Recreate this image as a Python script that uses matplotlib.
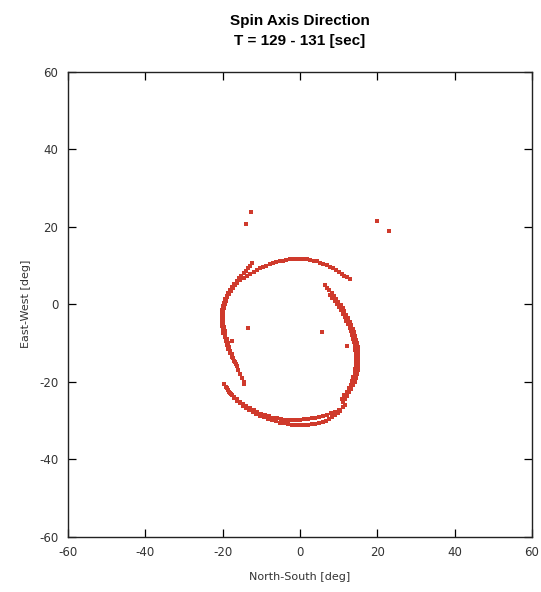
import matplotlib
matplotlib.use("Agg")
import matplotlib.pyplot as plt

# ---- data (deg) ----
outer_c_x = [12.8, 12.2, 11.5, 10.8, 10.1, 9.3, 8.5, 7.7, 6.9, 6.0, 5.2, 4.3, 3.5, 2.6, 1.7, 0.8, 0.0,
             -0.9, -1.8, -2.6, -3.5, -4.4, -5.2, -6.1, -7.0, -7.8, -8.7, -9.5, -10.3, -11.2, -12.0,
             -12.9, -13.7, -14.6, -15.5, -16.2, -16.8, -17.4, -17.9, -18.4, -18.8, -19.2, -19.5,
             -19.7, -19.8, -19.9, -19.9, -19.8, -19.7, -19.5, -19.3, -19.0, -18.7, -18.4, -18.0,
             -17.7, -17.3, -16.9, -16.4, -16.0, -15.5, -15.1, -14.6, -14.4]
outer_c_y = [6.4, 6.9, 7.3, 7.8, 8.2, 8.7, 9.2, 9.6, 10.0, 10.4, 10.7, 11.0, 11.2, 11.4, 11.6, 11.6, 11.7,
             11.6, 11.6, 11.5, 11.4, 11.2, 11.1, 10.8, 10.6, 10.3, 9.9, 9.6, 9.2, 8.7, 8.2,
             7.7, 7.2, 6.7, 6.1, 5.4, 4.8, 4.1, 3.3, 2.5, 1.7, 0.8, -0.1,
             -1.0, -2.0, -3.0, -4.0, -5.0, -6.0, -7.0, -8.0, -9.0, -10.0, -11.0, -12.0,
             -13.0, -14.0, -15.0, -16.0, -17.0, -18.0, -19.0, -20.0, -20.6]

spur_x = [-12.5, -13.0, -13.5, -14.0, -14.6, -15.2, -15.8, -16.4, -17.0, -17.6, -18.1, -18.6, -19.0,
          -19.4, -19.7, -20.0, -20.2, -20.3, -20.3, -20.3, -20.2, -20.0, -19.8, -19.5, -19.2,
          -18.9, -18.5, -18.1, -17.6, -17.1, -16.6]
spur_y = [10.5, 9.9, 9.2, 8.6, 8.0, 7.3, 6.6, 6.0, 5.2, 4.4, 3.6, 2.8, 2.0,
          1.2, 0.3, -0.6, -1.6, -2.6, -3.6, -4.6, -5.6, -6.6, -7.6, -8.6, -9.6,
          -10.6, -11.6, -12.6, -13.6, -14.6, -15.6]

right_a_x = [6.5, 7.0, 7.6, 8.2, 8.8, 9.4, 9.9, 10.5, 11.0, 11.5, 12.0, 12.4, 12.8, 13.2, 13.6, 13.9,
             14.2, 14.5, 14.7, 14.9, 15.0, 15.1, 15.1, 15.1, 15.0, 14.9, 14.7, 14.4, 14.1, 13.7,
             13.2, 12.7, 12.2, 11.7, 11.2]
right_a_y = [4.9, 4.2, 3.5, 2.8, 2.0, 1.3, 0.5, -0.3, -1.1, -1.9, -2.8, -3.7, -4.6, -5.5, -6.4, -7.3,
             -8.2, -9.2, -10.1, -11.0, -12.0, -13.0, -14.0, -15.0, -16.0, -17.0, -18.0, -19.0, -20.0, -21.0,
             -21.9, -22.8, -23.7, -24.6, -25.4]

right_b_x = [7.8, 8.4, 9.0, 9.5, 10.1, 10.6, 11.1, 11.6, 12.0, 12.4, 12.8, 13.1, 13.5, 13.8, 14.0,
             14.2, 14.3, 14.4, 14.5, 14.4, 14.4, 14.3, 14.1, 13.8, 13.5, 13.1, 12.6, 12.1, 11.5, 10.9]
right_b_y = [2.3, 1.6, 0.8, 0.0, -0.8, -1.6, -2.5, -3.4, -4.3, -5.2, -6.1, -7.0, -8.0, -8.9, -9.8,
             -10.8, -11.8, -12.8, -13.8, -14.8, -15.8, -16.8, -17.8, -18.8, -19.8, -20.8, -21.7, -22.6,
             -23.5, -24.4]

bottom_lo_x = [-19.6, -19.2, -18.7, -18.2, -17.6, -17.0, -16.3, -15.6, -14.8, -14.0, -13.1, -12.2,
               -11.3, -10.3, -9.3, -8.3, -7.3, -6.2, -5.2, -4.1, -3.1, -2.0, -1.0, 0.0, 1.0, 2.0,
               3.0, 4.0, 5.0, 5.9, 6.8, 7.6, 8.4, 9.1, 9.8, 10.4]
bottom_lo_y = [-20.6, -21.4, -22.2, -22.9, -23.6, -24.3, -25.0, -25.6, -26.2, -26.8, -27.3, -27.9,
               -28.4, -28.8, -29.2, -29.6, -30.0, -30.3, -30.6, -30.8, -30.9, -31.1, -31.1, -31.2,
               -31.2, -31.1, -31.0, -30.9, -30.7, -30.4, -30.1, -29.7, -29.2, -28.7, -28.1, -27.5]

bottom_hi_x = [-19.0, -18.4, -17.8, -17.1, -16.4, -15.6, -14.8, -13.9, -13.0, -12.0, -11.0, -10.0,
               -9.0, -8.0, -7.0, -6.0, -5.0, -4.0, -3.0, -2.0, -1.0, 0.0, 1.0, 2.0, 3.0, 4.0, 5.0,
               6.0, 7.0, 8.0, 9.0, 10.0, 11.0, 11.6]
bottom_hi_y = [-21.8, -22.6, -23.3, -24.0, -24.6, -25.2, -25.8, -26.4, -26.9, -27.4, -27.9, -28.3,
               -28.6, -29.0, -29.3, -29.5, -29.7, -29.8, -29.9, -29.9, -29.9, -29.8, -29.7, -29.6,
               -29.5, -29.3, -29.1, -28.9, -28.6, -28.2, -27.8, -27.3, -26.7, -26.0]

outlier_x = [-12.7, -14.0, 20.0, 23.0, -13.4, -17.7, 5.6, 12.1]
outlier_y = [23.7, 20.6, 21.3, 18.8, -6.3, -9.5, -7.3, -10.8]

ticks = [-60, -40, -20, 0, 20, 40, 60]
tick_labels = ["-60", "-40", "-20", "0", "20", "40", "60"]

title_text = "Spin Axis Direction\nT = 129 - 131 [sec]"
xlabel_text = "North-South [deg]"
ylabel_text = "East-West [deg]"

# ---- figure ----
color = "#cf3a2c"
fig = plt.figure(figsize=(5.41, 5.92), dpi=100)
ax = fig.add_axes([0.1257, 0.0937, 0.8577, 0.7855])

series = [(outer_c_x, outer_c_y), (spur_x, spur_y), (right_a_x, right_a_y), (right_b_x, right_b_y),
          (bottom_lo_x, bottom_lo_y), (bottom_hi_x, bottom_hi_y), (outlier_x, outlier_y)]
for xs, ys in series:
    ax.plot(xs, ys, linestyle="none", marker="s", ms=2.6, mew=0, color=color)

ax.set_xlim(-60, 60)
ax.set_ylim(-60, 60)
ax.set_xticks(ticks)
ax.set_xticklabels(tick_labels)
ax.set_yticks(ticks)
ax.set_yticklabels(tick_labels)
ax.tick_params(direction="in", length=6, width=0.9, top=True, right=True,
               labelsize=8.5, labelcolor="#333333", pad=7)
for sp in ax.spines.values():
    sp.set_linewidth(1.0)
    sp.set_color("#222222")

ax.set_xlabel(xlabel_text, fontsize=8, color="#333333", labelpad=9)
ax.set_ylabel(ylabel_text, fontsize=8, color="#333333", labelpad=6)
fig.text(0.5545, 0.948, title_text, ha="center", va="center", fontsize=11,
         fontweight="bold", family=["Liberation Sans Narrow", "Liberation Sans", "DejaVu Sans"],
         linespacing=1.5)

fig.savefig("out.png", dpi=100)
